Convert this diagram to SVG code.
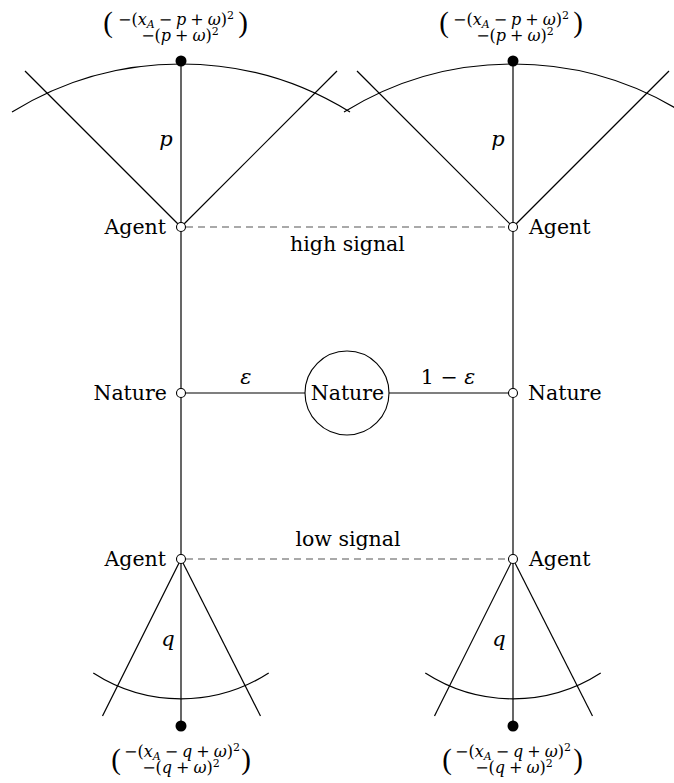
<svg xmlns="http://www.w3.org/2000/svg" width="674" height="783" viewBox="0 0 674 783">
<style>
  .ln { stroke: #000; stroke-width: 1.2; fill: none; }
  .dash { stroke: #555; stroke-width: 1.2; stroke-dasharray: 7 5; fill: none; }
  .open { fill: #fff; stroke: #000; stroke-width: 1.1; }
  .term { fill: #000; }
  .lbl { font-family: "DejaVu Serif", "Liberation Serif", serif; font-size: 20.5px; fill: #000; }
  .mi { font-family: "DejaVu Serif", "Liberation Serif", serif; font-style: italic; font-size: 21px; fill: #000; }
  .pay { font-family: "DejaVu Serif", "Liberation Serif", serif; font-size: 16px; fill: #000; text-anchor: middle; }
  .i { font-style: italic; }
  .sub, .sup { font-size: 11px; }
  .paren { font-family: "Liberation Serif", serif; font-size: 29px; }
</style>
<rect width="674" height="783" fill="#fff"/>

<g id="connectors">
  <line class="ln" x1="181" y1="61" x2="181" y2="726"/>
  <line class="ln" x1="513" y1="61" x2="513" y2="726"/>
  <line class="ln" x1="181" y1="227" x2="25" y2="71"/>
  <line class="ln" x1="181" y1="227" x2="337" y2="71"/>
  <path class="ln" d="M 12 112 A 321.5 321.5 0 0 1 350 112"/>
  <line class="ln" x1="513" y1="227" x2="357" y2="71"/>
  <line class="ln" x1="513" y1="227" x2="669" y2="71"/>
  <path class="ln" d="M 344 112 A 321.5 321.5 0 0 1 682 112"/>
  <line class="ln" x1="181" y1="559" x2="102.5" y2="716"/>
  <line class="ln" x1="181" y1="559" x2="260.5" y2="716"/>
  <path class="ln" d="M 93.3 673 A 161.8 161.8 0 0 0 268.7 673"/>
  <line class="ln" x1="513" y1="559" x2="434.5" y2="716"/>
  <line class="ln" x1="513" y1="559" x2="592.5" y2="716"/>
  <path class="ln" d="M 425.3 673 A 161.8 161.8 0 0 0 600.7 673"/>
  <line class="ln" x1="181" y1="393" x2="305" y2="393"/>
  <line class="ln" x1="389" y1="393" x2="513" y2="393"/>
  <line class="dash" x1="186" y1="227" x2="508" y2="227"/>
  <line class="dash" x1="186" y1="559" x2="508" y2="559"/>
  <text class="mi" x="166" y="146" text-anchor="middle">p</text>
  <text class="mi" x="498" y="146" text-anchor="middle">p</text>
  <text class="mi" x="168" y="646" text-anchor="middle">q</text>
  <text class="mi" x="499" y="646" text-anchor="middle">q</text>
  <text class="mi" x="246" y="384" text-anchor="middle">ε</text>
  <text class="lbl" x="448" y="384" text-anchor="middle">1 − <tspan class="i">ε</tspan></text>
  <text class="lbl" x="347.5" y="251" text-anchor="middle">high signal</text>
  <text class="lbl" x="348" y="546" text-anchor="middle">low signal</text>
</g>

<g id="nature-root">
  <circle class="open" cx="347" cy="393" r="42"/>
  <text class="lbl" x="347.5" y="400" text-anchor="middle">Nature</text>
</g>
<g id="nature-left">
  <circle class="open" cx="181" cy="393" r="4.5"/>
  <text class="lbl" x="167" y="400" text-anchor="end">Nature</text>
</g>
<g id="nature-right">
  <circle class="open" cx="513" cy="393" r="4.5"/>
  <text class="lbl" x="528" y="400" text-anchor="start">Nature</text>
</g>
<g id="agent-tl">
  <circle class="open" cx="181" cy="227" r="4.5"/>
  <text class="lbl" x="166" y="234" text-anchor="end">Agent</text>
</g>
<g id="agent-tr">
  <circle class="open" cx="513" cy="227" r="4.5"/>
  <text class="lbl" x="529" y="234" text-anchor="start">Agent</text>
</g>
<g id="agent-bl">
  <circle class="open" cx="181" cy="559" r="4.5"/>
  <text class="lbl" x="166" y="566" text-anchor="end">Agent</text>
</g>
<g id="agent-br">
  <circle class="open" cx="513" cy="559" r="4.5"/>
  <text class="lbl" x="529" y="566" text-anchor="start">Agent</text>
</g>

<g id="terminal-tl">
  <circle class="term" cx="181" cy="61" r="5.5"/>
  <text class="pay"><tspan class="paren" x="108" y="32">(</tspan><tspan class="paren" x="243" y="32">)</tspan><tspan x="176" y="25">−(<tspan class="i">x</tspan><tspan class="sub i" dy="2.5">A</tspan><tspan dx="4" dy="-2.5">−</tspan><tspan class="i" dx="4">p</tspan><tspan dx="4">+</tspan><tspan class="i" dx="4">ω</tspan>)<tspan class="sup" dy="-6">2</tspan></tspan><tspan x="180" y="41">−(<tspan class="i">p</tspan><tspan dx="4">+</tspan><tspan class="i" dx="4">ω</tspan>)<tspan class="sup" dy="-6">2</tspan></tspan></text>
</g>
<g id="terminal-tr">
  <circle class="term" cx="513" cy="61" r="5.5"/>
  <text class="pay"><tspan class="paren" x="444" y="32">(</tspan><tspan class="paren" x="578" y="32">)</tspan><tspan x="511" y="25">−(<tspan class="i">x</tspan><tspan class="sub i" dy="2.5">A</tspan><tspan dx="4" dy="-2.5">−</tspan><tspan class="i" dx="4">p</tspan><tspan dx="4">+</tspan><tspan class="i" dx="4">ω</tspan>)<tspan class="sup" dy="-6">2</tspan></tspan><tspan x="515" y="41">−(<tspan class="i">p</tspan><tspan dx="4">+</tspan><tspan class="i" dx="4">ω</tspan>)<tspan class="sup" dy="-6">2</tspan></tspan></text>
</g>
<g id="terminal-bl">
  <circle class="term" cx="181" cy="726" r="5.5"/>
  <text class="pay"><tspan class="paren" x="116" y="769">(</tspan><tspan class="paren" x="246" y="769">)</tspan><tspan x="182" y="757">−(<tspan class="i">x</tspan><tspan class="sub i" dy="2.5">A</tspan><tspan dx="4" dy="-2.5">−</tspan><tspan class="i" dx="4">q</tspan><tspan dx="4">+</tspan><tspan class="i" dx="4">ω</tspan>)<tspan class="sup" dy="-6">2</tspan></tspan><tspan x="181" y="773">−(<tspan class="i">q</tspan><tspan dx="4">+</tspan><tspan class="i" dx="4">ω</tspan>)<tspan class="sup" dy="-6">2</tspan></tspan></text>
</g>
<g id="terminal-br">
  <circle class="term" cx="513" cy="726" r="5.5"/>
  <text class="pay"><tspan class="paren" x="447" y="769">(</tspan><tspan class="paren" x="578" y="769">)</tspan><tspan x="513" y="757">−(<tspan class="i">x</tspan><tspan class="sub i" dy="2.5">A</tspan><tspan dx="4" dy="-2.5">−</tspan><tspan class="i" dx="4">q</tspan><tspan dx="4">+</tspan><tspan class="i" dx="4">ω</tspan>)<tspan class="sup" dy="-6">2</tspan></tspan><tspan x="514" y="773">−(<tspan class="i">q</tspan><tspan dx="4">+</tspan><tspan class="i" dx="4">ω</tspan>)<tspan class="sup" dy="-6">2</tspan></tspan></text>
</g>
</svg>
